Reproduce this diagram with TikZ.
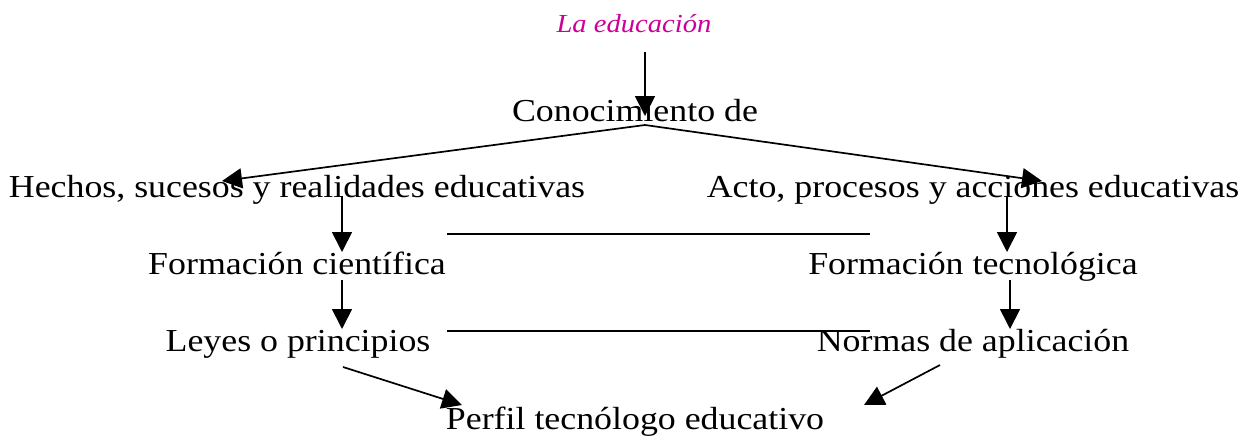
\documentclass[tikz,border=0pt]{standalone}
\usepackage{fontspec}
\setmainfont[FakeStretch=1.12]{Liberation Serif}
\newfontfamily\edufont[FakeStretch=1.1]{Liberation Serif}
\usetikzlibrary{arrows.meta}
\definecolor{edumag}{RGB}{204,0,153}
\begin{document}
\begin{tikzpicture}[x=1pt,y=-1pt,
  lbl/.style={inner sep=0pt,anchor=base,font=\fontsize{32}{38}\selectfont},
  arr/.style={-{Triangle[length=20pt,width=20pt]},line width=1.7pt},
  ln/.style={line width=1.7pt}]
\useasboundingbox (0,0) rectangle (1246,437);
\node[inner sep=0pt,anchor=base,font=\edufont\fontsize{26}{30}\selectfont\itshape,text=edumag] (edu) at (634,32) {La educación};
\node[lbl] (conoc) at (635,121) {Conocimiento de};
\node[lbl] (hechos) at (297,197) {Hechos, sucesos y realidades educativas};
\node[lbl] (acto) at (973,197) {Acto, procesos y acciones educativas};
\node[lbl] (fcien) at (297,274) {Formación científica};
\node[lbl] (ftec) at (973,274) {Formación tecnológica};
\node[lbl] (leyes) at (298,351) {Leyes o principios};
\node[lbl] (normas) at (973,351) {Normas de aplicación};
\node[lbl] (perfil) at (635,429) {Perfil tecnólogo educativo};
% connector end points
\coordinate (eduout) at (645,52);
\coordinate (conocin) at (645,116);
\coordinate (conocout) at (645,125);
\coordinate (hechosin) at (222,181);
\coordinate (actoin) at (1042,181);
\coordinate (hechosout) at (342,196);
\coordinate (fcienin) at (342,252);
\coordinate (actoout) at (1007,196);
\coordinate (ftecin) at (1007,252);
\coordinate (fcienout) at (342,280);
\coordinate (leyesin) at (342,329);
\coordinate (ftecout) at (1010,280);
\coordinate (normasin) at (1010,329);
\coordinate (leyesout) at (343,367);
\coordinate (perfilinl) at (462,405);
\coordinate (normasout) at (940,365);
\coordinate (perfilinr) at (864,405);
\coordinate (linkal) at (447,234);
\coordinate (linkar) at (870,234);
\coordinate (linkbl) at (447,331);
\coordinate (linkbr) at (870,331);
\draw[arr] (eduout) -- (conocin);
\draw[arr] (conocout) -- (hechosin);
\draw[arr] (conocout) -- (actoin);
\draw[arr] (hechosout) -- (fcienin);
\draw[arr] (actoout) -- (ftecin);
\draw[arr] (fcienout) -- (leyesin);
\draw[arr] (ftecout) -- (normasin);
\draw[arr] (leyesout) -- (perfilinl);
\draw[arr] (normasout) -- (perfilinr);
\draw[ln] (linkal) -- (linkar);
\draw[ln] (linkbl) -- (linkbr);
\end{tikzpicture}
\end{document}
